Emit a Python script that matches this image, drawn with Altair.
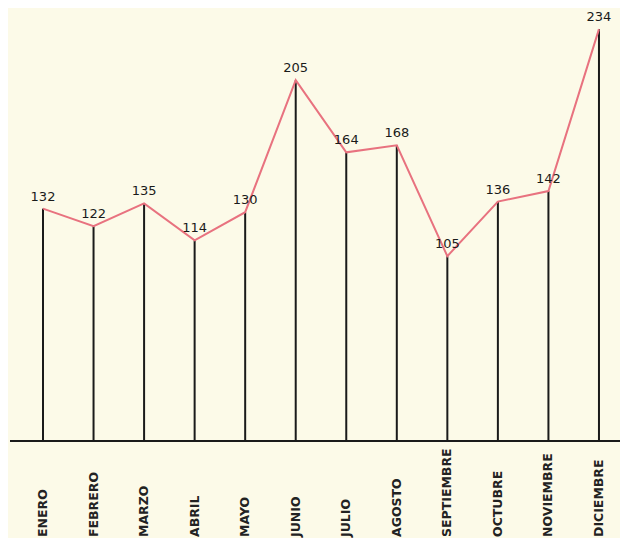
import altair as alt
import pandas as pd

months = ["ENERO", "FEBRERO", "MARZO", "ABRIL", "MAYO", "JUNIO", "JULIO",
          "AGOSTO", "SEPTIEMBRE", "OCTUBRE", "NOVIEMBRE", "DICIEMBRE"]
values = [132, 122, 135, 114, 130, 205, 164, 168, 105, 136, 142, 234]

df = pd.DataFrame({"idx": list(range(len(months))), "month": months, "value": values})

W, H = 612, 530
x_dom = [-0.6925, 11.416]
y_dom = [-55.1, 246.0]

xs = alt.X("idx:Q", scale=alt.Scale(domain=x_dom, nice=False, zero=False), axis=None)
ys = alt.Y("value:Q", scale=alt.Scale(domain=y_dom, nice=False, zero=False), axis=None)

base = alt.Chart(df)

baseline = base.mark_rule(color="#1a1a1a", strokeWidth=2).encode(
    x=alt.value(2), x2=alt.value(W), y=alt.Y(datum=0, scale=alt.Scale(domain=y_dom, nice=False, zero=False), axis=None)
)

stems = base.mark_rule(color="#1a1a1a", strokeWidth=2).encode(
    x=xs, y=ys, y2=alt.Y2(datum=0)
)

line = base.mark_line(color="#e8727f", strokeWidth=2).encode(x=xs, y=ys)

vals = base.mark_text(font="DejaVu Sans", fontSize=13, color="#1a1a1a",
                      baseline="bottom", dy=-5).encode(x=xs, y=ys, text="value:Q")

labels = base.mark_text(font="DejaVu Sans", fontSize=12.5, fontWeight="bold",
                        color="#222222", angle=270, align="left", baseline="middle").encode(
    x=xs, y=alt.value(H - 1), text="month:N"
)

chart = alt.layer(baseline, stems, line, vals, labels).properties(
    width=W, height=H, background="#fcfae8", padding=0,
    autosize=alt.AutoSizeParams(type="none")
).configure_view(stroke=None)

chart.save("out.html", embed_options={"renderer": "svg", "actions": False})
